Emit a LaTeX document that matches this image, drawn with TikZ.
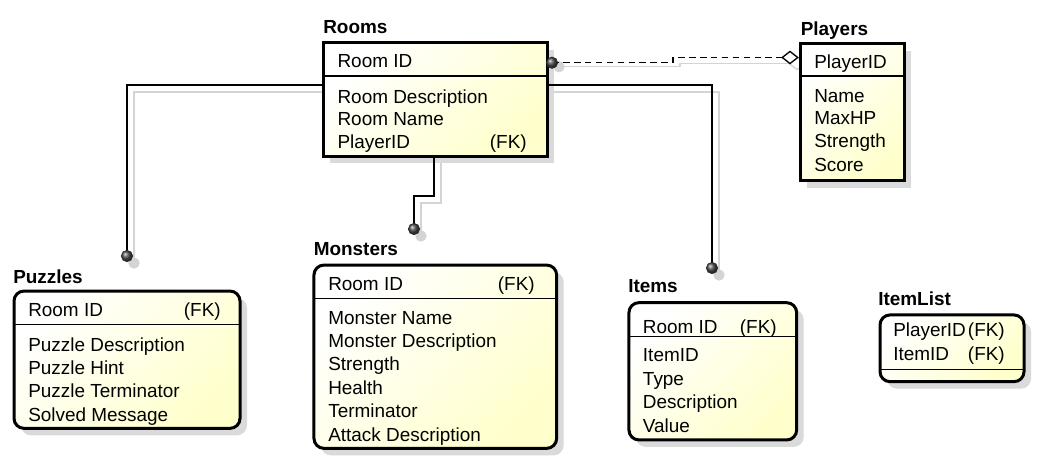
\documentclass[tikz,border=0pt]{standalone}
\usepackage{fontspec}
\setmainfont{Liberation Sans}
\usetikzlibrary{shapes.geometric,shadows,backgrounds}
\definecolor{yfill}{RGB}{255,255,204}
\definecolor{shcol}{RGB}{218,218,218}
\definecolor{shline}{RGB}{212,212,212}
\begin{document}
\begin{tikzpicture}[x=0.75pt,y=-0.75pt,
  entity/.style={draw=black, line width=2.25pt, outer sep=0pt, inner sep=0pt,
    top color=white, bottom color=yfill, shading angle=45,
    drop shadow={shadow xshift=5.25pt, shadow yshift=-5.25pt, fill=shcol, opacity=1}},
  depent/.style={entity, rounded corners=7.5pt},
  ttl/.style={anchor=base west, inner sep=0pt, font=\fontsize{14.2pt}{17pt}\selectfont\bfseries},
  attr/.style={anchor=base west, inner sep=0pt, font=\fontsize{14.2pt}{17pt}\selectfont},
  fk/.style={anchor=base east, inner sep=0pt, font=\fontsize{14.2pt}{17pt}\selectfont},
  divider/.style={line width=0.9pt},
  conn/.style={line width=1pt},
  shadowline/.style={draw=shline, line width=1pt},
  sh/.style={xshift=5.25pt, yshift=-5.25pt},
  ball/.style={circle, inner sep=0pt, minimum size=8.5pt, ball color=black!70, draw=black!85, line width=0.5pt},
  ballshadow/.style={circle, inner sep=0pt, minimum size=8.5pt, fill=shline},
  dia/.style={diamond, draw=black, fill=white, inner sep=0pt, minimum width=12pt, minimum height=9.5pt, line width=1pt}
]
\useasboundingbox (0,0) rectangle (1037,462);

% ---------- entities ----------
\node[entity, minimum width=224*0.75pt, minimum height=113.3*0.75pt] (rooms) at (435,99.4) {};
\node[entity, minimum width=104*0.75pt, minimum height=137*0.75pt] (players) at (852,112.4) {};
\node[depent, minimum width=226*0.75pt, minimum height=137.3*0.75pt] (puzzles) at (127,359.7) {};
\node[depent, minimum width=242.7*0.75pt, minimum height=183.3*0.75pt] (monsters) at (435.3,356.7) {};
\node[depent, minimum width=167.7*0.75pt, minimum height=137.3*0.75pt] (items) at (712.8,371.3) {};
\node[depent, minimum width=144*0.75pt, minimum height=66.7*0.75pt] (itemlist) at (952,348.3) {};

% dividers
\draw[divider] (rooms.west |- 0,76) -- (rooms.east |- 0,76);
\draw[divider] (players.west |- 0,76) -- (players.east |- 0,76);
\draw[divider] (puzzles.west |- 0,324.3) -- (puzzles.east |- 0,324.3);
\draw[divider] (monsters.west |- 0,298.3) -- (monsters.east |- 0,298.3);
\draw[divider] (items.west |- 0,336.7) -- (items.east |- 0,336.7);
\draw[divider] (itemlist.west |- 0,369.3) -- (itemlist.east |- 0,369.3);

% ---------- texts ----------
% Rooms
\node[ttl] (roomsT) at (323,33) {Rooms};
\node[attr] (r1) at (337.3,67) {Room ID};
\node[attr] (r2) at (337.3,103) {Room Description};
\node[attr] (r3) at (337.3,125.5) {Room Name};
\node[attr] (r4) at (337.3,148) {PlayerID};
\node[fk] (r4fk) at (527,148) {(FK)};
% Players
\node[ttl] (playersT) at (800.5,35) {Players};
\node[attr] (p1) at (814,68) {PlayerID};
\node[attr] (p2) at (814,102) {Name};
\node[attr] (p3) at (814,124.5) {MaxHP};
\node[attr] (p4) at (814,147.5) {Strength};
\node[attr] (p5) at (814,171) {Score};
% Puzzles
\node[ttl] (puzzlesT) at (13,283) {Puzzles};
\node[attr] (z1) at (28,316.7) {Room ID};
\node[fk] (z1fk) at (221,316.7) {(FK)};
\node[attr] (z2) at (28,351) {Puzzle Description};
\node[attr] (z3) at (28,374.3) {Puzzle Hint};
\node[attr] (z4) at (28,397.7) {Puzzle Terminator};
\node[attr] (z5) at (28,421.7) {Solved Message};
% Monsters
\node[ttl] (monstersT) at (313.5,255) {Monsters};
\node[attr] (m1) at (328,290) {Room ID};
\node[fk] (m1fk) at (535,290) {(FK)};
\node[attr] (m2) at (328,324) {Monster Name};
\node[attr] (m3) at (328,347) {Monster Description};
\node[attr] (m4) at (328,370) {Strength};
\node[attr] (m5) at (328,394) {Health};
\node[attr] (m6) at (328,417.3) {Terminator};
\node[attr] (m7) at (328,441) {Attack Description};
% Items
\node[ttl] (itemsT) at (628,292) {Items};
\node[attr] (i1) at (642.7,333) {Room ID};
\node[fk] (i1fk) at (777,333) {(FK)};
\node[attr] (i2) at (642.7,361.7) {ItemID};
\node[attr] (i3) at (642.7,385) {Type};
\node[attr] (i4) at (642.7,408) {Description};
\node[attr] (i5) at (642.7,432) {Value};
% ItemList
\node[ttl] (itemlistT) at (878,305.5) {ItemList};
\node[attr] (l1) at (893,336) {PlayerID};
\node[fk] (l1fk) at (1005,336) {(FK)};
\node[attr] (l2) at (893,360) {ItemID};
\node[fk] (l2fk) at (1005,360) {(FK)};

% ---------- connector bend points ----------
\coordinate (pzturn) at (127,85);
\coordinate (pzend) at (127,256);
\coordinate (mo1) at (434,196);
\coordinate (mo2) at (414,196);
\coordinate (moend) at (414,229);
\coordinate (itturn) at (712,85);
\coordinate (itend) at (712,268);
\coordinate (rpball) at (552,62.7);
\coordinate (d1) at (673,62.7);
\coordinate (d2) at (673,57.5);
\coordinate (diac) at (790,57.5);

% ---------- connector shadows ----------
\begin{pgfonlayer}{background}
\fill[white] (0,0) rectangle (1037,462);
\draw[shadowline] ([sh]pzend) -- ([sh]pzturn) -- ++(220,0);
\node[ballshadow] (pzbs) at ([sh]pzend) {};
\draw[shadowline] ([sh]moend) -- ([sh]mo2) -- ([sh]mo1) -- ++(0,-60);
\node[ballshadow] (mobs) at ([sh]moend) {};
\draw[shadowline] ([sh]itend) -- ([sh]itturn) -- ++(-200,0);
\node[ballshadow] (itbs) at ([sh]itend) {};
\draw[shadowline] ([xshift=5.25pt,yshift=-3pt]rpball) -- ([xshift=5.25pt,yshift=-3pt]d1) -- ([xshift=5.25pt,yshift=-4.5pt]d2) -- ([xshift=5.25pt,yshift=-4.5pt]diac);
\node[ballshadow] (rpbs) at ([xshift=5.25pt,yshift=-3pt]rpball) {};
\node[diamond, draw=shline, fill=white, inner sep=0pt, minimum width=12pt, minimum height=9.5pt, line width=1pt] (dias) at ([xshift=5.25pt,yshift=-4.5pt]diac) {};
\end{pgfonlayer}

% ---------- connectors ----------
\draw[conn] (rooms.west |- pzturn) -- (pzturn) -- (pzend);
\draw[conn] (rooms.south -| mo1) -- (mo1) -- (mo2) -- (moend);
\draw[conn] (rooms.east |- itturn) -- (itturn) -- (itend);
\draw[conn, dash pattern=on 5pt off 3.2pt] (rpball) -- (d1) -- (d2) -- (diac);

\node[ball] (pzball) at (pzend) {};
\node[ball] (moball) at (moend) {};
\node[ball] (itball) at (itend) {};
\node[ball] (rpb) at (rpball) {};
\node[dia] (pdia) at (diac) {};
\end{tikzpicture}
\end{document}
